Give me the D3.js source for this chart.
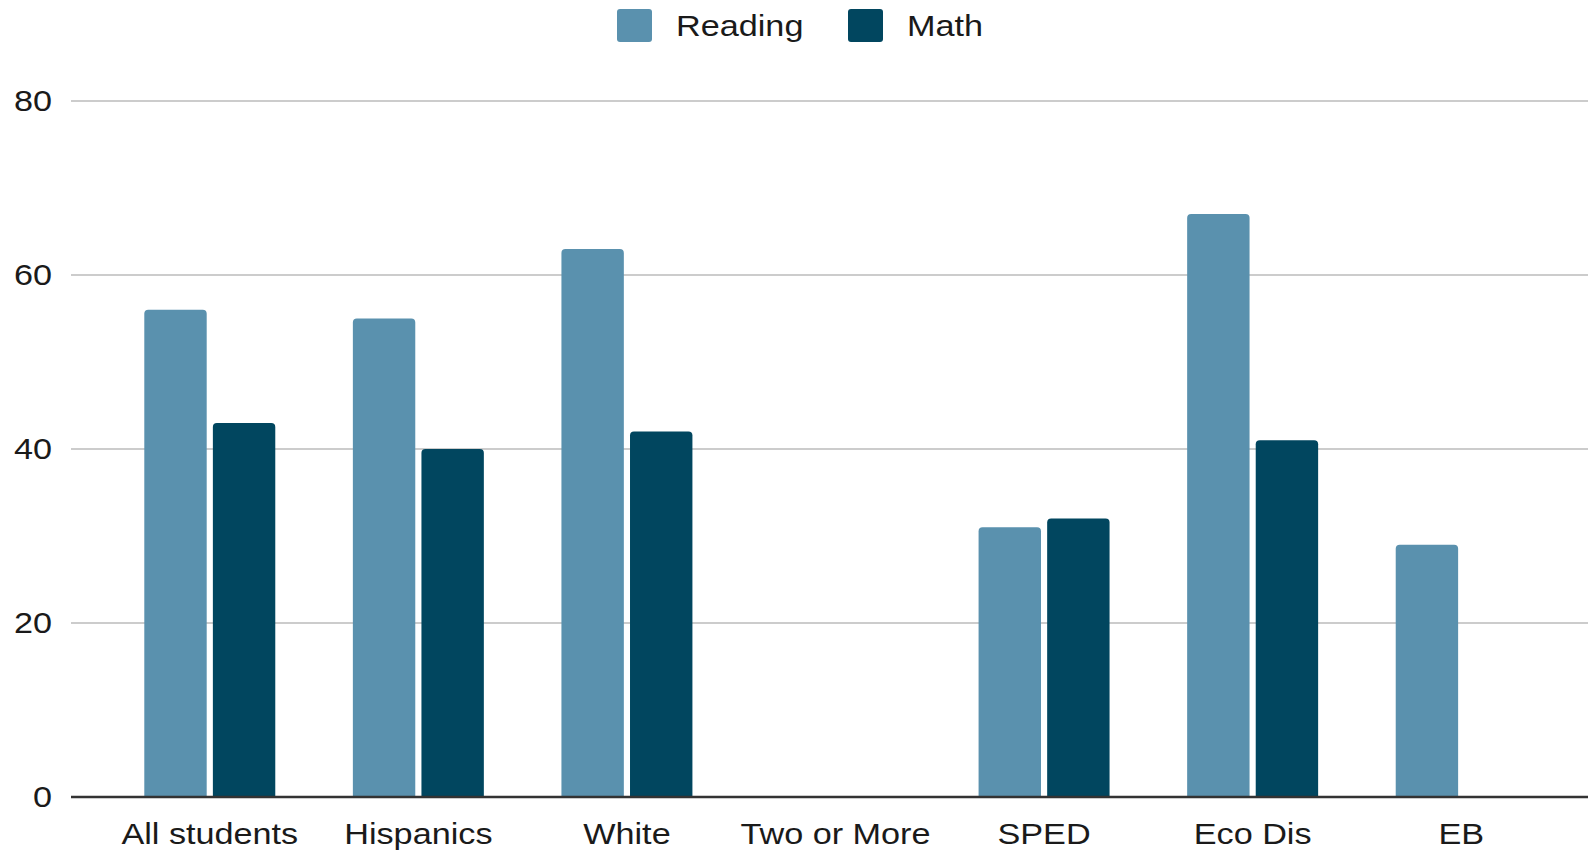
<!DOCTYPE html>
<html lang="en">
<head>
  <script src="https://d3js.org/d3.v7.min.js"></script>
  <style>
    body {
      margin: 0;
      background: #fff;
    }
    text {
      font-family: "Liberation Sans", Arial, sans-serif;
      fill: #1a1a1a;
    }
  </style>
</head>
<body>
<div id="chart"></div>
<script>
  // data
  var categories = ["All students", "Hispanics", "White", "Two or More", "SPED", "Eco Dis", "EB"];
  var seriesNames = ["Reading", "Math"];
  var readingValues = [56, 55, 63, null, 31, 67, 29];
  var mathValues = [43, 40, 42, null, 32, 41, null];
  var yTicks = [0, 20, 40, 60, 80];
  var colors = ["#5a91ae", "#01465f"];

  var width = 1588, height = 853;
  var stretch = 1.18; // text in the picture is drawn a bit wide

  var svg = d3.select("#chart").append("svg")
          .attr("width", width)
          .attr("height", height)
          .style("background-color", "white");

  var y = d3.scaleLinear().domain([0, 80]).range([797, 101]);

  var x0 = d3.scaleBand()
          .domain(categories)
          .range([105.5, 1565.5])
          .paddingInner(0.372)
          .paddingOuter(0.186);

  var x1 = d3.scaleBand()
          .domain(seriesNames)
          .range([0, x0.bandwidth()])
          .paddingInner(0.09);

  var color = d3.scaleOrdinal().domain(seriesNames).range(colors);

  // gridlines
  svg.append("g")
          .selectAll("line")
          .data(yTicks.filter(function(d) { return d > 0; }))
          .enter().append("line")
          .attr("x1", 71)
          .attr("x2", width)
          .attr("y1", function(d) { return y(d); })
          .attr("y2", function(d) { return y(d); })
          .attr("stroke", "#cccccc")
          .attr("stroke-width", 2);

  // y tick labels
  svg.append("g")
          .selectAll("text")
          .data(yTicks)
          .enter().append("text")
          .attr("text-anchor", "end")
          .attr("dy", "0.35em")
          .attr("transform", function(d) { return "translate(52," + y(d) + ") scale(" + stretch + ",1)"; })
          .style("font-size", "29px")
          .text(function(d) { return d; });

  // bars
  var rows = categories.map(function(c, i) {
    return {cat: c, values: [
      {key: "Reading", value: readingValues[i]},
      {key: "Math", value: mathValues[i]}
    ]};
  });

  function topRounded(x, yTop, w, yBase, r) {
    r = Math.min(r, (yBase - yTop) / 2, w / 2);
    return "M" + x + "," + yBase +
           "V" + (yTop + r) +
           "Q" + x + "," + yTop + " " + (x + r) + "," + yTop +
           "H" + (x + w - r) +
           "Q" + (x + w) + "," + yTop + " " + (x + w) + "," + (yTop + r) +
           "V" + yBase + "Z";
  }

  svg.append("g")
          .selectAll("g")
          .data(rows)
          .enter().append("g")
          .attr("transform", function(d) { return "translate(" + x0(d.cat) + ",0)"; })
          .selectAll("path")
          .data(function(d) { return d.values.filter(function(v) { return v.value != null; }); })
          .enter().append("path")
          .attr("d", function(d) {
            return topRounded(x1(d.key), y(d.value), x1.bandwidth(), y(0), 4);
          })
          .style("fill", function(d) { return color(d.key); });

  // baseline
  svg.append("line")
          .attr("x1", 71)
          .attr("x2", width)
          .attr("y1", y(0))
          .attr("y2", y(0))
          .attr("stroke", "#333")
          .attr("stroke-width", 2.5);

  // x labels
  svg.append("g")
          .selectAll("text")
          .data(categories)
          .enter().append("text")
          .attr("text-anchor", "middle")
          .attr("transform", function(d) {
            return "translate(" + (x0(d) + x0.bandwidth() / 2) + ",844) scale(" + stretch + ",1)";
          })
          .style("font-size", "29px")
          .text(function(d) { return d; });

  // legend
  var legendX = [617, 848];
  var legend = svg.append("g")
          .selectAll("g")
          .data(seriesNames)
          .enter().append("g")
          .attr("transform", function(d, i) { return "translate(" + legendX[i] + ",9)"; });

  legend.append("rect")
          .attr("width", 35)
          .attr("height", 33)
          .attr("rx", 3)
          .style("fill", function(d) { return color(d); });

  legend.append("text")
          .attr("transform", "translate(59,27) scale(" + stretch + ",1)")
          .style("font-size", "29px")
          .text(function(d) { return d; });
</script>
</body>
</html>
